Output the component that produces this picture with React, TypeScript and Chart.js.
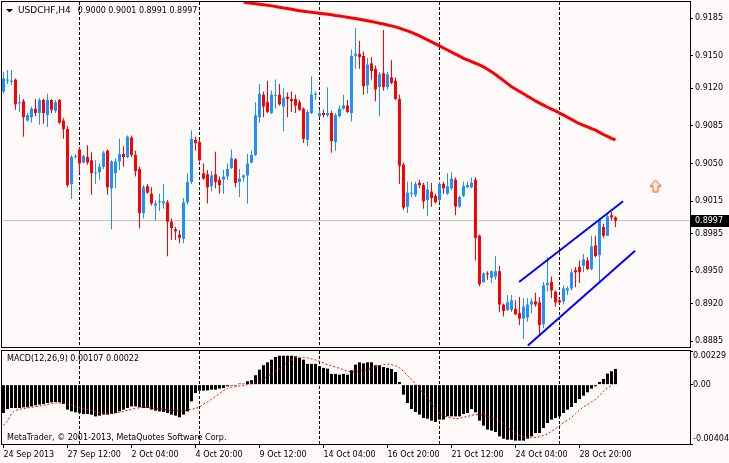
import { useEffect, useRef } from 'react';
import { Chart, registerables } from 'chart.js';

Chart.register(...registerables);

const FONT = '"DejaVu Sans", sans-serif';
const BG = '#fffafa';
const BULL = '#1e90ff';
const BEAR = '#ff0000';

const symbol = 'USDCHF,H4';

const opens = [0.9117,0.9127,0.9126,0.9128,0.9106,0.9108,0.9090,0.9093,0.9101,0.9097,
 0.9109,0.9095,0.9109,0.9099,0.9109,0.9090,0.9082,0.9031,0.9056,0.9063,
 0.9051,0.9056,0.9053,0.9041,0.9042,0.9047,0.9062,0.9027,0.9041,0.9052,
 0.9059,0.9056,0.9074,0.9058,0.9045,0.9004,0.9029,0.9022,0.9011,0.9014,
 0.9013,0.9014,0.8996,0.8989,0.8984,0.8980,0.9014,0.9033,0.9072,0.9070,
 0.9041,0.9040,0.9029,0.9040,0.9035,0.9035,0.9038,0.9046,0.9054,0.9033,
 0.9037,0.9039,0.9051,0.9058,0.9093,0.9114,0.9107,0.9097,0.9113,0.9114,
 0.9103,0.9112,0.9110,0.9110,0.9107,0.9101,0.9072,0.9097,0.9114,0.9094,
 0.9097,0.9095,0.9097,0.9070,0.9094,0.9101,0.9104,0.9097,0.9150,0.9152,
 0.9150,0.9123,0.9143,0.9138,0.9121,0.9134,0.9121,0.9130,0.9127,0.9110,
 0.9049,0.9010,0.9022,0.9021,0.9032,0.9030,0.9016,0.9024,0.9020,0.9016,
 0.9031,0.9022,0.9027,0.9035,0.9010,0.9020,0.9028,0.9028,0.9035,0.8983,
 0.8940,0.8948,0.8944,0.8945,0.8950,0.8919,0.8914,0.8914,0.8915,0.8911,
 0.8906,0.8907,0.8919,0.8922,0.8921,0.8901,0.8937,0.8940,0.8931,0.8923,
 0.8922,0.8932,0.8934,0.8951,0.8954,0.8955,0.8960,0.8952,0.8974,0.8965,
 0.8991,0.8983,0.9002,0.9000];

const highs = [0.9135,0.9137,0.9137,0.9129,0.9114,0.9110,0.9097,0.9103,0.9110,0.9111,
 0.9110,0.9115,0.9110,0.9109,0.9110,0.9092,0.9085,0.9058,0.9059,0.9065,
 0.9058,0.9067,0.9061,0.9053,0.9050,0.9062,0.9063,0.9053,0.9055,0.9073,
 0.9066,0.9076,0.9076,0.9062,0.9047,0.9030,0.9031,0.9028,0.9016,0.9022,
 0.9031,0.9016,0.8999,0.8991,0.8988,0.9018,0.9041,0.9081,0.9075,0.9072,
 0.9050,0.9044,0.9043,0.9061,0.9038,0.9044,0.9050,0.9063,0.9055,0.9045,
 0.9040,0.9059,0.9062,0.9107,0.9124,0.9117,0.9127,0.9118,0.9128,0.9124,
 0.9120,0.9116,0.9117,0.9114,0.9109,0.9102,0.9100,0.9131,0.9117,0.9100,
 0.9100,0.9121,0.9099,0.9097,0.9104,0.9114,0.9109,0.9156,0.9176,0.9164,
 0.9154,0.9148,0.9149,0.9141,0.9135,0.9174,0.9135,0.9146,0.9130,0.9114,
 0.9051,0.9033,0.9033,0.9033,0.9035,0.9032,0.9033,0.9032,0.9022,0.9033,
 0.9033,0.9041,0.9042,0.9037,0.9020,0.9033,0.9033,0.9037,0.9037,0.8984,
 0.8949,0.8950,0.8951,0.8964,0.8955,0.8920,0.8928,0.8928,0.8923,0.8926,
 0.8925,0.8925,0.8925,0.8930,0.8926,0.8940,0.8963,0.8945,0.8932,0.8925,
 0.8937,0.8936,0.8952,0.8954,0.8960,0.8966,0.8963,0.8983,0.8983,0.8999,
 0.8994,0.9003,0.9005,0.9001];

const lows = [0.9115,0.9124,0.9123,0.9100,0.9098,0.9075,0.9089,0.9088,0.9094,0.9086,
 0.9087,0.9084,0.9097,0.9097,0.9087,0.9073,0.9028,0.9017,0.9055,0.9042,
 0.9050,0.9049,0.9021,0.9031,0.9035,0.9045,0.9021,0.8989,0.9027,0.9044,
 0.9047,0.9055,0.9056,0.9038,0.8990,0.8999,0.9022,0.9011,0.8997,0.9006,
 0.9008,0.8964,0.8979,0.8979,0.8976,0.8976,0.9012,0.9031,0.9062,0.9052,
 0.9035,0.9013,0.9024,0.9027,0.9022,0.9022,0.9035,0.9045,0.9028,0.9019,
 0.9033,0.9013,0.9050,0.9057,0.9088,0.9093,0.9097,0.9096,0.9101,0.9104,
 0.9080,0.9093,0.9098,0.9097,0.9099,0.9069,0.9066,0.9096,0.9109,0.9093,
 0.9093,0.9093,0.9060,0.9062,0.9093,0.9100,0.9097,0.9089,0.9138,0.9138,
 0.9114,0.9115,0.9128,0.9108,0.9094,0.9118,0.9119,0.9124,0.9109,0.9031,
 0.9007,0.9004,0.9019,0.9019,0.9027,0.9008,0.9001,0.9010,0.9013,0.9014,
 0.9022,0.9021,0.9025,0.9002,0.9009,0.9019,0.9027,0.9027,0.8960,0.8936,
 0.8939,0.8942,0.8939,0.8942,0.8912,0.8908,0.8913,0.8912,0.8909,0.8900,
 0.8887,0.8903,0.8911,0.8917,0.8891,0.8897,0.8931,0.8925,0.8917,0.8920,
 0.8919,0.8928,0.8932,0.8935,0.8939,0.8949,0.8951,0.8951,0.8963,0.8940,
 0.8981,0.8983,0.8997,0.8991];

const closes = [0.9129,0.9128,0.9127,0.9105,0.9107,0.9093,0.9095,0.9101,0.9097,0.9109,
 0.9097,0.9109,0.9100,0.9107,0.9088,0.9082,0.9030,0.9056,0.9057,0.9050,
 0.9057,0.9051,0.9041,0.9042,0.9047,0.9060,0.9028,0.9052,0.9052,0.9059,
 0.9056,0.9075,0.9058,0.9043,0.9004,0.9028,0.9023,0.9013,0.9013,0.9015,
 0.9015,0.8996,0.8990,0.8987,0.8981,0.9014,0.9033,0.9073,0.9069,0.9053,
 0.9036,0.9028,0.9039,0.9033,0.9030,0.9038,0.9045,0.9055,0.9032,0.9036,
 0.9039,0.9050,0.9058,0.9095,0.9115,0.9103,0.9098,0.9114,0.9114,0.9105,
 0.9111,0.9110,0.9108,0.9104,0.9100,0.9073,0.9098,0.9114,0.9115,0.9097,
 0.9095,0.9097,0.9071,0.9095,0.9101,0.9104,0.9098,0.9150,0.9152,0.9149,
 0.9122,0.9142,0.9136,0.9119,0.9133,0.9121,0.9133,0.9125,0.9110,0.9048,
 0.9009,0.9023,0.9023,0.9031,0.9030,0.9015,0.9026,0.9018,0.9014,0.9031,
 0.9027,0.9029,0.9036,0.9010,0.9019,0.9029,0.9030,0.9032,0.8981,0.8938,
 0.8948,0.8947,0.8950,0.8950,0.8919,0.8913,0.8921,0.8923,0.8910,0.8906,
 0.8917,0.8919,0.8922,0.8919,0.8900,0.8937,0.8939,0.8932,0.8921,0.8921,
 0.8934,0.8934,0.8949,0.8949,0.8949,0.8961,0.8952,0.8973,0.8964,0.8998,
 0.8983,0.9001,0.9000,0.8997];

const maFirstIndex = 60;
const maValues = [0.92000,0.91995,0.91990,0.91985,0.91980,0.91975,0.91970,0.91965,0.91960,0.91953,
 0.91946,0.91940,0.91933,0.91926,0.91920,0.91915,0.91910,0.91906,0.91902,0.91897,
 0.91892,0.91887,0.91882,0.91876,0.91871,0.91865,0.91859,0.91853,0.91847,0.91841,
 0.91834,0.91827,0.91820,0.91812,0.91804,0.91796,0.91788,0.91779,0.91770,0.91758,
 0.91745,0.91732,0.91718,0.91703,0.91686,0.91668,0.91650,0.91631,0.91612,0.91593,
 0.91574,0.91555,0.91536,0.91517,0.91498,0.91478,0.91463,0.91448,0.91432,0.91417,
 0.91398,0.91377,0.91352,0.91328,0.91300,0.91272,0.91243,0.91214,0.91192,0.91170,
 0.91148,0.91126,0.91104,0.91082,0.91062,0.91043,0.91023,0.91006,0.90990,0.90970,
 0.90950,0.90930,0.90910,0.90890,0.90870,0.90855,0.90840,0.90825,0.90810,0.90790,
 0.90770,0.90752,0.90735,0.90720];

const channelUpper = [{ x: 128.9, y: 0.8940 }, { x: 154.9, y: 0.9015 }];
const channelLower = [{ x: 131.1, y: 0.8881 }, { x: 157.9, y: 0.8969 }];
const arrowMarks = [{ x: 163, y: 0.9029 }];

const priceTicks = [0.9185, 0.9150, 0.9120, 0.9085, 0.9050, 0.9015, 0.8985, 0.8950, 0.8920, 0.8885];

const macdMain = [-0.00193,-0.00166,-0.00159,-0.00159,-0.00159,-0.00154,-0.00154,-0.00148,-0.00141,-0.00136,
 -0.00132,-0.00125,-0.00120,-0.00118,-0.00120,-0.00132,-0.00170,-0.00182,-0.00188,-0.00193,
 -0.00200,-0.00200,-0.00204,-0.00216,-0.00211,-0.00204,-0.00204,-0.00200,-0.00193,-0.00182,
 -0.00170,-0.00159,-0.00148,-0.00148,-0.00154,-0.00159,-0.00159,-0.00170,-0.00177,-0.00182,
 -0.00186,-0.00193,-0.00204,-0.00211,-0.00222,-0.00204,-0.00182,-0.00114,-0.00057,-0.00041,
 -0.00041,-0.00039,-0.00034,-0.00034,-0.00027,-0.00023,-0.00011,-0.00005,-0.00002,0.00002,
 0.00005,0.00023,0.00030,0.00064,0.00102,0.00132,0.00152,0.00170,0.00188,0.00197,
 0.00197,0.00197,0.00197,0.00193,0.00182,0.00170,0.00141,0.00141,0.00141,0.00125,
 0.00114,0.00109,0.00073,0.00073,0.00068,0.00073,0.00068,0.00098,0.00136,0.00152,
 0.00145,0.00152,0.00152,0.00132,0.00132,0.00120,0.00114,0.00107,0.00086,0.00018,
 -0.00068,-0.00125,-0.00166,-0.00186,-0.00204,-0.00227,-0.00232,-0.00245,-0.00254,-0.00238,
 -0.00238,-0.00216,-0.00216,-0.00216,-0.00216,-0.00200,-0.00193,-0.00166,-0.00188,-0.00245,
 -0.00279,-0.00306,-0.00313,-0.00322,-0.00352,-0.00368,-0.00375,-0.00375,-0.00381,-0.00381,
 -0.00381,-0.00368,-0.00352,-0.00329,-0.00329,-0.00295,-0.00261,-0.00238,-0.00227,-0.00216,
 -0.00193,-0.00170,-0.00152,-0.00125,-0.00098,-0.00075,-0.00052,-0.00027,-0.00011,0.00018,
 0.00039,0.00075,0.00091,0.00107];

const macdSignal = [-0.00277,-0.00250,-0.00197,-0.00175,-0.00168,-0.00163,-0.00159,-0.00154,-0.00150,-0.00145,
 -0.00141,-0.00134,-0.00127,-0.00125,-0.00125,-0.00125,-0.00132,-0.00138,-0.00150,-0.00157,
 -0.00163,-0.00170,-0.00177,-0.00184,-0.00191,-0.00195,-0.00200,-0.00197,-0.00193,-0.00188,
 -0.00182,-0.00175,-0.00168,-0.00161,-0.00157,-0.00154,-0.00157,-0.00159,-0.00161,-0.00163,
 -0.00168,-0.00173,-0.00175,-0.00177,-0.00182,-0.00177,-0.00173,-0.00168,-0.00161,-0.00154,
 -0.00132,-0.00118,-0.00100,-0.00079,-0.00061,-0.00041,-0.00025,-0.00018,-0.00014,-0.00009,
 -0.00005,0.00000,0.00007,0.00016,0.00025,0.00039,0.00057,0.00073,0.00091,0.00109,
 0.00132,0.00148,0.00168,0.00182,0.00186,0.00184,0.00182,0.00175,0.00168,0.00159,
 0.00148,0.00136,0.00127,0.00120,0.00111,0.00102,0.00091,0.00089,0.00086,0.00091,
 0.00098,0.00102,0.00114,0.00123,0.00129,0.00136,0.00141,0.00136,0.00129,0.00114,
 0.00091,0.00064,0.00034,0.00005,-0.00027,-0.00061,-0.00093,-0.00129,-0.00163,-0.00200,
 -0.00211,-0.00222,-0.00227,-0.00232,-0.00229,-0.00222,-0.00216,-0.00209,-0.00204,-0.00204,
 -0.00209,-0.00216,-0.00225,-0.00232,-0.00250,-0.00268,-0.00291,-0.00313,-0.00334,-0.00347,
 -0.00356,-0.00361,-0.00361,-0.00359,-0.00354,-0.00345,-0.00336,-0.00318,-0.00300,-0.00279,
 -0.00259,-0.00243,-0.00222,-0.00197,-0.00173,-0.00150,-0.00136,-0.00118,-0.00102,-0.00073,
 -0.00045,-0.00023,-0.00005,0.00022];

const macdTicks = [0.00229, 0, -0.00404];

const timeLabelIdx = [0, 16, 32, 48, 64, 80, 96, 112, 128, 144];
const timeLabels = ['24 Sep 2013', '27 Sep 12:00', '2 Oct 04:00', '4 Oct 20:00', '9 Oct 12:00',
  '14 Oct 04:00', '16 Oct 20:00', '21 Oct 12:00', '24 Oct 04:00', '28 Oct 20:00'];
const separatorIdx = [19, 49, 79, 109, 139];

const X_MIN = -0.375;
const X_MAX = 171.625;
const PRICE_MIN = 0.88796;
const PRICE_MAX = 0.92001;
const MACD_MIN = -0.00404;
const MACD_MAX = 0.00229;

const lastIdx = closes.length - 1;
const bidPrice = closes[lastIdx];

function separatorPlugin(id: string) {
  return {
    id,
    beforeDatasetsDraw(chart: any) {
      const { ctx, chartArea, scales } = chart;
      ctx.save();
      ctx.strokeStyle = '#000';
      ctx.lineWidth = 1;
      ctx.setLineDash([3, 2]);
      for (const idx of separatorIdx) {
        const x = Math.round(scales.x.getPixelForValue(idx) - 0.5) + 0.5;
        ctx.beginPath();
        ctx.moveTo(x, chartArea.top);
        ctx.lineTo(x, chartArea.bottom);
        ctx.stroke();
      }
      ctx.restore();
    },
  };
}

function drawFrame(chart: any) {
  const { ctx, chartArea } = chart;
  ctx.save();
  ctx.strokeStyle = '#000';
  ctx.lineWidth = 1;
  ctx.strokeRect(chartArea.left - 0.5, chartArea.top - 0.5,
    chartArea.right - chartArea.left + 1, chartArea.bottom - chartArea.top + 1);
  ctx.restore();
}

function makeArrow(): HTMLCanvasElement {
  const c = document.createElement('canvas');
  c.width = 13;
  c.height = 13;
  const g = c.getContext('2d')!;
  g.beginPath();
  g.moveTo(6.5, 0.5);
  g.lineTo(12, 6.5);
  g.lineTo(9, 6.5);
  g.lineTo(9, 12);
  g.lineTo(4, 12);
  g.lineTo(4, 6.5);
  g.lineTo(1, 6.5);
  g.closePath();
  g.fillStyle = '#fff0e6';
  g.fill();
  g.strokeStyle = '#ff4a10';
  g.lineWidth = 1;
  g.stroke();
  return c;
}

export default function App() {
  const mainRef = useRef<HTMLCanvasElement>(null);
  const macdRef = useRef<HTMLCanvasElement>(null);

  useEffect(() => {
    document.body.style.margin = '0';
    Chart.defaults.font.family = FONT;
    Chart.defaults.font.size = 8;

    const colors = closes.map((c, i) => (c >= opens[i] ? BULL : BEAR));
    const wickData = closes.map((_, i) => ({ x: i, y: [lows[i], highs[i]] }));
    const bodyData = closes.map((c, i) => ({ x: i, y: [opens[i], c] }));
    const maData = maValues.map((v, k) => ({ x: maFirstIndex + k, y: v }));
    const arrow = makeArrow();

    const mainPlugin = {
      id: 'mainDecor',
      afterDraw(chart: any) {
        const { ctx, scales } = chart;
        drawFrame(chart);
        ctx.save();
        // title
        ctx.fillStyle = '#000';
        ctx.beginPath();
        ctx.moveTo(6, 9);
        ctx.lineTo(13, 9);
        ctx.lineTo(9.5, 12.5);
        ctx.closePath();
        ctx.fill();
        ctx.textBaseline = 'middle';
        ctx.textAlign = 'left';
        ctx.font = `9px ${FONT}`;
        ctx.fillText(symbol, 18, 11);
        const w = ctx.measureText(symbol).width;
        ctx.font = `8px ${FONT}`;
        const ohlc = [opens[lastIdx], highs[lastIdx], lows[lastIdx], closes[lastIdx]]
          .map((v) => v.toFixed(4)).join(' ');
        ctx.fillText(ohlc, 18 + w + 7, 11);
        // bid label
        const y = Math.round(scales.y.getPixelForValue(bidPrice));
        ctx.fillStyle = '#000';
        ctx.fillRect(691, y - 6, 38, 12);
        ctx.fillStyle = '#fff';
        ctx.fillText(bidPrice.toFixed(4), 695, y);
        ctx.restore();
      },
    };

    const macdPlugin = {
      id: 'macdDecor',
      afterDraw(chart: any) {
        const { ctx, chartArea } = chart;
        drawFrame(chart);
        ctx.save();
        ctx.fillStyle = '#000';
        ctx.font = `8px ${FONT}`;
        ctx.textBaseline = 'middle';
        ctx.textAlign = 'left';
        const label = `MACD(12,26,9) ${macdMain[lastIdx].toFixed(5)} ${macdSignal[lastIdx].toFixed(5)}`;
        ctx.fillText(label, 7, chartArea.top + 8);
        ctx.fillText('MetaTrader, © 2001-2013, MetaQuotes Software Corp.', 7, chartArea.bottom - 6);
        ctx.restore();
      },
    };

    const main = new Chart(mainRef.current!, {
      type: 'bar',
      data: {
        datasets: [
          { type: 'line', label: 'Channel upper', data: channelUpper, borderColor: '#0000ff', borderWidth: 2,
            pointRadius: 0, order: 0, clip: 0 } as any,
          { type: 'line', label: 'Channel lower', data: channelLower, borderColor: '#0000ff', borderWidth: 2,
            pointRadius: 0, order: 0, clip: 0 } as any,
          { type: 'line', label: 'Buy arrow', data: arrowMarks, showLine: false, pointStyle: arrow,
            pointRadius: 6, order: 0 } as any,
          { type: 'line', label: 'MA', data: maData, borderColor: '#ff0000', borderWidth: 3,
            pointRadius: 0, order: 1, clip: 0 } as any,
          { type: 'bar', label: 'Bodies', data: bodyData, backgroundColor: colors, barThickness: 3,
            minBarLength: 1, grouped: false, inflateAmount: 0, borderWidth: 0, order: 2 } as any,
          { type: 'bar', label: 'Wicks', data: wickData, backgroundColor: colors, barThickness: 1,
            grouped: false, inflateAmount: 0, borderWidth: 0, order: 3 } as any,
          { type: 'line', label: 'Bid', data: [{ x: X_MIN, y: bidPrice }, { x: X_MAX, y: bidPrice }],
            borderColor: '#c0c0c0', borderWidth: 1, pointRadius: 0, order: 4 } as any,
        ],
      },
      options: {
        animation: false,
        responsive: false,
        devicePixelRatio: 1,
        events: [],
        layout: { autoPadding: false, padding: { left: 2, top: 2, right: 0, bottom: 1 } },
        plugins: { legend: { display: false }, tooltip: { enabled: false } },
        scales: {
          x: { type: 'linear', display: false, min: X_MIN, max: X_MAX, offset: false, bounds: 'data',
            grid: { offset: false } },
          y: {
            type: 'linear', position: 'right', min: PRICE_MIN, max: PRICE_MAX, beginAtZero: false,
            afterBuildTicks: (s: any) => { s.ticks = priceTicks.map((v) => ({ value: v })); },
            afterFit: (s: any) => { s.width = 39; s.paddingTop = 0; s.paddingBottom = 0; },
            grid: { drawOnChartArea: false, drawTicks: true, tickLength: 3, color: '#000' },
            border: { display: true, color: '#000' },
            ticks: { color: '#000', font: { family: FONT, size: 8 }, padding: 2, autoSkip: false,
              callback: (v: any) => Number(v).toFixed(4) },
          },
        },
      } as any,
      plugins: [separatorPlugin('sepMain'), mainPlugin],
    });

    const macd = new Chart(macdRef.current!, {
      type: 'bar',
      data: {
        datasets: [
          { type: 'line', label: 'Signal', data: macdSignal.map((v, i) => ({ x: i, y: v })),
            borderColor: '#ff0000', borderWidth: 1, borderDash: [2, 2], pointRadius: 0, order: 0 } as any,
          { type: 'bar', label: 'MACD', data: macdMain.map((v, i) => ({ x: i, y: v })),
            backgroundColor: '#000', barThickness: 3, minBarLength: 1, grouped: false,
            inflateAmount: 0, borderWidth: 0, order: 1 } as any,
        ],
      },
      options: {
        animation: false,
        responsive: false,
        devicePixelRatio: 1,
        events: [],
        layout: { autoPadding: false, padding: { left: 2, top: 3, right: 0, bottom: 0 } },
        plugins: { legend: { display: false }, tooltip: { enabled: false } },
        scales: {
          x: {
            type: 'linear', position: 'bottom', min: X_MIN, max: X_MAX, offset: false, bounds: 'data',
            afterBuildTicks: (s: any) => { s.ticks = timeLabelIdx.map((v) => ({ value: v })); },
            afterFit: (s: any) => { s.height = 19; s.paddingLeft = 0; s.paddingRight = 0; },
            grid: { offset: false, drawOnChartArea: false, drawTicks: true, tickLength: 4, color: '#000' },
            border: { display: true, color: '#000' },
            ticks: {
              align: 'start', maxRotation: 0, minRotation: 0, autoSkip: false, padding: 2, color: '#000',
              font: { family: FONT, size: 8 },
              callback: (v: any) => {
                const k = timeLabelIdx.indexOf(Number(v));
                return k >= 0 ? timeLabels[k] : '';
              },
            },
          },
          y: {
            type: 'linear', position: 'right', min: MACD_MIN, max: MACD_MAX, beginAtZero: false,
            afterBuildTicks: (s: any) => { s.ticks = macdTicks.map((v) => ({ value: v })); },
            afterFit: (s: any) => { s.width = 39; s.paddingTop = 0; s.paddingBottom = 0; },
            grid: { drawOnChartArea: false, drawTicks: true, tickLength: 3, color: '#000' },
            border: { display: true, color: '#000' },
            ticks: {
              color: '#000', font: { family: FONT, size: 8 }, padding: 0, autoSkip: false,
              callback: (v: any) => {
                const n = Number(v);
                const s = n === 0 ? '0.00' : n.toFixed(5);
                if (n === macdTicks[0]) return ['', s];
                if (n === macdTicks[2]) return [s, ''];
                return s;
              },
            },
          },
        },
      } as any,
      plugins: [separatorPlugin('sepMacd'), macdPlugin],
    });

    return () => {
      main.destroy();
      macd.destroy();
    };
  }, []);

  return (
    <div style={{ position: 'absolute', left: 0, top: 0, width: 729, height: 463, background: BG, overflow: 'hidden' }}>
      <canvas ref={mainRef} width={729} height={348}
        style={{ position: 'absolute', left: 0, top: 0, width: 729, height: 348 }} />
      <canvas ref={macdRef} width={729} height={115}
        style={{ position: 'absolute', left: 0, top: 348, width: 729, height: 115 }} />
    </div>
  );
}
